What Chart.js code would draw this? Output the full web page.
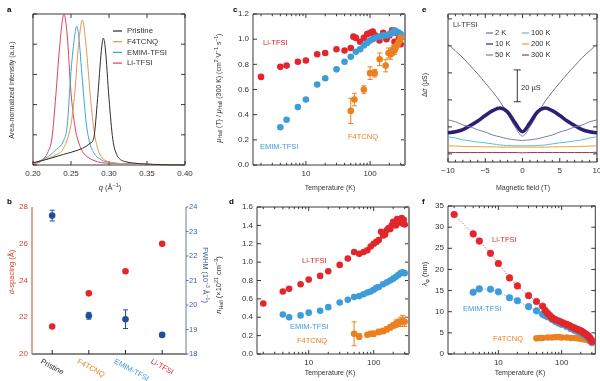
<!DOCTYPE html>
<html>
<head>
<meta charset="utf-8">
<script src="https://cdn.jsdelivr.net/npm/chart.js@4.4.1/dist/chart.umd.min.js"></script>
<style>
  html, body { margin: 0; padding: 0; background: #fff; }
  #wrap { position: relative; width: 600px; height: 381px; overflow: hidden; }
  canvas { position: absolute; }
</style>
</head>
<body>
<div id="wrap">
  <canvas id="pa" width="200" height="195" style="left:0;top:0"></canvas>
  <canvas id="pc" width="210" height="195" style="left:205px;top:0"></canvas>
  <canvas id="pe" width="185" height="195" style="left:415px;top:0"></canvas>
  <canvas id="pb" width="212" height="186" style="left:0;top:195px"></canvas>
  <canvas id="pd" width="203" height="186" style="left:212px;top:195px"></canvas>
  <canvas id="pf" width="185" height="186" style="left:415px;top:195px"></canvas>
</div>
<script>
// ---- panel a: scattering peaks (area-normalized intensity, a.u.) ----
const qPristine = [0.20, 0.22, 0.24, 0.26, 0.27, 0.275, 0.28, 0.285, 0.29, 0.2925, 0.295, 0.30, 0.305, 0.31, 0.315, 0.32, 0.33, 0.35, 0.37, 0.40];
const iPristine = [0.07, 0.2, 0.35, 0.5, 0.62, 0.72, 0.9, 2.2, 3.8, 4.2, 3.9, 2.2, 0.85, 0.35, 0.18, 0.12, 0.07, 0.03, 0.01, 0];
const qF4 = [0.20, 0.21, 0.22, 0.23, 0.24, 0.25, 0.255, 0.26, 0.265, 0.27, 0.275, 0.28, 0.285, 0.29, 0.30, 0.31, 0.32, 0.35, 0.40];
const iF4 = [0.05, 0.12, 0.22, 0.33, 0.55, 1.35, 2.4, 4.0, 4.8, 3.9, 2.4, 1.2, 0.55, 0.27, 0.1, 0.06, 0.04, 0.02, 0];
const qEmim = [0.20, 0.21, 0.22, 0.23, 0.24, 0.245, 0.25, 0.255, 0.2575, 0.26, 0.265, 0.27, 0.275, 0.28, 0.29, 0.30, 0.32, 0.35, 0.40];
const iEmim = [0.05, 0.15, 0.28, 0.5, 0.8, 1.3, 3.1, 4.3, 4.6, 4.3, 2.8, 1.4, 0.7, 0.4, 0.17, 0.09, 0.04, 0.02, 0];
const qLi = [0.20, 0.21, 0.22, 0.225, 0.23, 0.235, 0.2408, 0.245, 0.25, 0.255, 0.26, 0.265, 0.27, 0.28, 0.29, 0.30, 0.32, 0.35, 0.40];
const iLi = [0.05, 0.12, 0.45, 0.9, 2.3, 3.9, 5.0, 4.3, 2.4, 1.3, 0.75, 0.45, 0.3, 0.15, 0.08, 0.06, 0.04, 0.02, 0];
const seriesA = ['Pristine', 'F4TCNQ', 'EMIM-TFSI', 'Li-TFSI'];

// ---- panel b: d-spacing and FWHM per sample ----
const samples = ['Pristine', 'F4TCNQ', 'EMIM-TFSI', 'Li-TFSI'];
const dSpacing = [21.5, 23.3, 24.5, 26.0];
const fwhm = [23.65, 19.56, 19.42, 18.78];
const fwhmErr = [0.22, 0.14, 0.38, 0.06];

// ---- panel c: normalized Hall mobility vs temperature ----
const tcLi = [2, 4, 5, 7.5, 10, 15, 20, 30, 40, 50, 55, 60, 70, 80, 90, 100, 110, 120, 140, 160, 180, 200, 220, 240, 260, 280, 300];
const mcLi = [0.70, 0.78, 0.79, 0.82, 0.83, 0.88, 0.89, 0.92, 0.91, 0.93, 1.02, 1.01, 0.98, 1.01, 1.04, 1.05, 1.06, 1.03, 0.99, 1.05, 1.0, 1.03, 1.07, 0.98, 1.05, 1.0, 0.96];
const tcEmim = [4, 5, 7.5, 10, 15, 20, 30, 40, 50, 60, 70, 80, 90, 100, 110, 120, 140, 160, 180, 200, 220, 240, 260, 280, 300];
const mcEmim = [0.30, 0.36, 0.46, 0.52, 0.64, 0.69, 0.76, 0.82, 0.86, 0.90, 0.92, 0.95, 0.97, 0.99, 1.0, 1.01, 1.02, 1.03, 1.03, 1.04, 1.05, 1.07, 1.06, 1.05, 1.04];
const tcF4 = [50, 57, 80, 100, 118, 141, 175, 194, 210, 220, 230, 240, 250, 260, 270, 280, 290, 300];
const mcF4 = [0.43, 0.52, 0.60, 0.73, 0.73, 0.84, 0.79, 0.89, 0.88, 0.90, 0.92, 0.91, 0.94, 0.95, 0.96, 0.98, 0.99, 1.01];
const ecF4 = [0.10, 0.05, 0.03, 0.05, 0.03, 0.05, 0.05, 0.04, 0.04, 0.03, 0.03, 0.03, 0.03, 0.03, 0.02, 0.02, 0.02, 0.02];

// ---- panel d: Hall carrier density (x10^21 cm^-3) ----
const tdLi = [2, 4, 5, 7.5, 10, 15, 20, 30, 40, 50, 60, 70, 80, 90, 100, 110, 120, 130, 140, 150, 160, 170, 180, 190, 200, 210, 220, 230, 240, 250, 260, 270, 280, 290, 300];
const ndLi = [0.55, 0.68, 0.71, 0.76, 0.81, 0.85, 0.90, 0.97, 1.04, 1.11, 1.09, 1.11, 1.13, 1.17, 1.20, 1.22, 1.24, 1.33, 1.29, 1.30, 1.35, 1.37, 1.36, 1.40, 1.44, 1.42, 1.40, 1.47, 1.45, 1.43, 1.44, 1.48, 1.42, 1.46, 1.41];
const tdEmim = [4, 5, 7.5, 10, 15, 20, 30, 40, 50, 60, 70, 80, 90, 100, 110, 120, 140, 160, 180, 200, 220, 240, 260, 280, 300];
const ndEmim = [0.43, 0.40, 0.42, 0.45, 0.47, 0.51, 0.56, 0.59, 0.62, 0.63, 0.65, 0.67, 0.68, 0.70, 0.72, 0.73, 0.76, 0.78, 0.80, 0.82, 0.84, 0.86, 0.88, 0.89, 0.88];
const tdF4 = [50, 60, 80, 90, 100, 120, 140, 160, 180, 200, 220, 240, 260, 280, 300];
const ndF4 = [0.22, 0.19, 0.21, 0.22, 0.22, 0.24, 0.25, 0.27, 0.29, 0.31, 0.33, 0.34, 0.35, 0.36, 0.35];
const edF4 = [0.13, 0.03, 0.02, 0.02, 0.03, 0.03, 0.03, 0.03, 0.03, 0.03, 0.04, 0.04, 0.05, 0.06, 0.05];

// ---- panel e: magnetoconductance of Li-TFSI (arbitrary offset units) ----
const fieldE = [-10, -9, -8, -7, -6, -5, -4, -3, -2, -1, 0, 1, 2, 3, 4, 5, 6, 7, 8, 9, 10];
const e2K = [4.07, 3.81, 3.56, 3.26, 2.96, 2.63, 2.30, 1.93, 1.48, 1.0, 0.66, 1.0, 1.48, 1.93, 2.30, 2.63, 2.96, 3.26, 3.56, 3.81, 4.07];
const e10K = [0.78, 0.82, 0.90, 1.05, 1.22, 1.42, 1.60, 1.70, 1.55, 1.15, 0.82, 1.15, 1.55, 1.70, 1.60, 1.42, 1.22, 1.05, 0.90, 0.82, 0.78];
const e50K = [1.26, 1.19, 1.07, 1.0, 0.89, 0.81, 0.70, 0.63, 0.56, 0.52, 0.50, 0.52, 0.56, 0.63, 0.70, 0.81, 0.89, 1.0, 1.07, 1.19, 1.26];
const e100K = [0.63, 0.59, 0.52, 0.48, 0.44, 0.41, 0.37, 0.33, 0.31, 0.30, 0.30, 0.30, 0.31, 0.33, 0.37, 0.41, 0.44, 0.48, 0.52, 0.59, 0.63];
const e200K = [0.30, 0.29, 0.28, 0.27, 0.27, 0.26, 0.26, 0.25, 0.25, 0.25, 0.25, 0.25, 0.25, 0.25, 0.26, 0.26, 0.27, 0.27, 0.28, 0.29, 0.30];
const e300K = [0.06, 0.05, 0.05, 0.05, 0.05, 0.05, 0.05, 0.05, 0.05, 0.05, 0.04, 0.05, 0.05, 0.05, 0.05, 0.05, 0.05, 0.05, 0.05, 0.05, 0.06];
const eLabels = ['2 K', '10 K', '50 K', '100 K', '200 K', '300 K'];

// ---- panel f: phase coherence length (nm) ----
const tfLi = [2, 4, 5, 7.5, 10, 15, 20, 30, 40, 50, 55, 60, 65, 70, 75, 80, 90, 100, 110, 120, 130, 140, 150, 160, 170, 180, 190, 200, 210, 220, 230, 240, 250, 260, 270, 280, 290, 300];
const lfLi = [33.0, 28.4, 26.7, 23.8, 21.4, 18.0, 16.1, 13.8, 12.4, 11.3, 10.3, 9.6, 9.1, 8.6, 8.3, 8.1, 7.8, 7.5, 7.2, 7.0, 6.8, 6.5, 6.3, 6.1, 5.9, 5.8, 5.6, 5.5, 5.3, 5.1, 4.9, 4.7, 4.5, 4.3, 4.0, 3.8, 3.4, 3.0];
const tfEmim = [4, 5, 7.5, 10, 15, 20, 30, 40, 50, 55, 60, 70, 80, 90, 100, 120, 140, 160, 180, 200, 220, 240, 260, 280, 300];
const lfEmim = [14.6, 15.4, 15.3, 14.7, 13.3, 12.6, 11.2, 10.2, 9.4, 9.1, 8.8, 8.2, 7.7, 7.3, 7.0, 6.5, 6.0, 5.6, 5.3, 5.0, 4.6, 4.2, 3.8, 3.4, 2.8];
const tfF4 = [40, 45, 50, 60, 70, 80, 90, 100, 120, 140, 160, 180, 200, 220, 240, 260, 280, 300];
const lfF4 = [3.7, 3.8, 3.8, 3.9, 3.9, 4.0, 4.0, 3.9, 3.9, 3.8, 3.8, 3.7, 3.6, 3.5, 3.4, 3.3, 3.0, 2.6];

const FONT = "'Liberation Sans', Arial, Helvetica, sans-serif";
const RED = '#e2262b', BLUE = '#3d9cd9', ORANGE = '#ec8020', NAVY = '#1f4f9c';
Chart.defaults.font.family = FONT;
Chart.defaults.font.size = 8;
Chart.defaults.color = '#333';
Chart.defaults.animation = false;

const pts = (xs, ys) => xs.map((x, i) => ({ x, y: ys[i] }));
const fitW = w => s => { s.width = w; s.paddingTop = 0; s.paddingBottom = 0; };
const fitH = h => s => { s.height = h; s.paddingLeft = 0; s.paddingRight = 0; };
const noGrid = { display: false, drawTicks: false };

// minor ticks of a log axis, 2..9 per decade
const logMinor = [];
for (const d of [1, 10, 100]) for (let k = 2; k <= 9; k++) logMinor.push(k * d);

function richText(ctx, parts, x, y, o) {
  if (typeof parts === 'string') parts = [[parts, '']];
  const size = o.size || 7.5;
  ctx.save();
  ctx.translate(x, y);
  ctx.rotate(o.angle || 0);
  ctx.fillStyle = o.color || '#333';
  ctx.textBaseline = 'middle';
  ctx.textAlign = 'left';
  const fonts = parts.map(p => {
    const small = p[1] === 'sub' || p[1] === 'sup';
    return (p[1] === 'i' ? 'italic ' : '') + (o.bold ? 'bold ' : '') + (small ? size * 0.72 : size) + 'px ' + FONT;
  });
  const widths = parts.map((p, i) => { ctx.font = fonts[i]; return ctx.measureText(p[0]).width; });
  const total = widths.reduce((s, w) => s + w, 0);
  let cx = o.align === 'left' ? 0 : -total / 2;
  parts.forEach((p, i) => {
    ctx.font = fonts[i];
    const dy = p[1] === 'sub' ? size * 0.3 : p[1] === 'sup' ? -size * 0.32 : 0;
    ctx.fillText(p[0], cx, dy);
    cx += widths[i];
  });
  ctx.restore();
}

function line(ctx, x1, y1, x2, y2) {
  ctx.beginPath(); ctx.moveTo(x1, y1); ctx.lineTo(x2, y2); ctx.stroke();
}

// frame, inward ticks, error bars and all texts
function deco(o) {
  return {
    id: 'deco',
    beforeDatasetsDraw(chart) {
      const ctx = chart.ctx, a = chart.chartArea;
      ctx.save();
      ctx.strokeStyle = '#222';
      ctx.lineWidth = 0.9;
      const xs = chart.scales.x, ys = chart.scales.y;
      if (o.xt) {
        const sides = o.xt.sides || ['top', 'bottom'];
        [[o.xt.major, 4], [o.xt.minor || [], 2.2]].forEach(([vals, len]) => vals.forEach(v => {
          if (v < xs.min || v > xs.max) return;
          const px = xs.getPixelForValue(v);
          if (sides.includes('bottom')) line(ctx, px, a.bottom, px, a.bottom - len);
          if (sides.includes('top')) line(ctx, px, a.top, px, a.top + len);
        }));
      }
      if (o.yt) {
        [[o.yt.major, 4], [o.yt.minor || [], 2.2]].forEach(([vals, len]) => vals.forEach(v => {
          const py = ys.getPixelForValue(v);
          line(ctx, a.left, py, a.left + len, py);
          line(ctx, a.right, py, a.right - len, py);
        }));
      }
      if (o.frame !== false) {
        line(ctx, a.left, a.top, a.right, a.top);
        line(ctx, a.left, a.top, a.left, a.bottom);
        line(ctx, a.left, a.bottom, a.right, a.bottom);
        ctx.strokeStyle = o.rightColor || '#222';
        ctx.lineWidth = o.rightWidth || 0.9;
        line(ctx, a.right, a.top, a.right, a.bottom);
      }
      if (o.before) o.before(ctx, chart);
      // error bars
      chart.data.datasets.forEach(ds => {
        if (!ds.err) return;
        const sx = chart.scales[ds.xAxisID || 'x'], sy = chart.scales[ds.yAxisID || 'y'];
        ctx.strokeStyle = ds.backgroundColor;
        ctx.lineWidth = 1;
        ds.data.forEach((p, i) => {
          const e = ds.err[i];
          if (!e) return;
          const px = sx.getPixelForValue(p.x), y1 = sy.getPixelForValue(p.y - e), y2 = sy.getPixelForValue(p.y + e);
          line(ctx, px, y1, px, y2);
          line(ctx, px - 2.5, y1, px + 2.5, y1);
          line(ctx, px - 2.5, y2, px + 2.5, y2);
        });
      });
      ctx.restore();
    },
    afterDraw(chart) {
      const ctx = chart.ctx;
      (o.texts || []).forEach(t => richText(ctx, t.p, t.x - o.ox, t.y - o.oy, t));
      if (o.after) o.after(ctx, chart);
    }
  };
}

const baseOpts = pad => ({
  responsive: false,
  animation: false,
  layout: { padding: pad },
  plugins: { legend: { display: false }, tooltip: { enabled: false } },
});

// ---------- panel a ----------
const colA = ['#2d2d2d', '#e59450', '#3aa6d0', '#d8415f'];
new Chart(document.getElementById('pa'), {
  type: 'scatter',
  data: {
    datasets: [[qPristine, iPristine], [qF4, iF4], [qEmim, iEmim], [qLi, iLi]].map((s, i) => ({
      label: seriesA[i], data: pts(s[0], s[1]), showLine: true, pointRadius: 0,
      borderColor: colA[i], borderWidth: 1, cubicInterpolationMode: 'monotone', clip: false
    }))
  },
  options: Object.assign(baseOpts({ top: 14, right: 15, left: 0, bottom: 0 }), {
    scales: {
      x: { type: 'linear', min: 0.2, max: 0.4, grid: noGrid, border: { display: false },
        ticks: { stepSize: 0.05, padding: 4, maxRotation: 0, autoSkip: false, callback: v => v.toFixed(2) }, afterFit: fitH(30) },
      y: { min: 0, max: 5, grid: noGrid, border: { display: false }, ticks: { display: false }, afterFit: fitW(33) }
    }
  }),
  plugins: [deco({
    ox: 0, oy: 0,
    xt: { major: [0.2, 0.25, 0.3, 0.35, 0.4] },
    yt: { major: [0, 1, 2, 3, 4, 5] },
    texts: [
      { p: 'a', x: 7, y: 10, align: 'left', bold: true, size: 8, color: '#000' },
      { p: [['q', 'i'], [' (Å', ''], ['−1', 'sup'], [')', '']], x: 110, y: 188 },
      { p: 'Area-normalized intensity (a.u.)', x: 12, y: 90, angle: -Math.PI / 2, size: 7 }
    ],
    after(ctx) {
      seriesA.forEach((n, i) => {
        const y = 31 + i * 10.7;
        ctx.strokeStyle = colA[i]; ctx.lineWidth = 1.2;
        line(ctx, 113, y, 122, y);
        richText(ctx, n, 127, y, { align: 'left', size: 7.8 });
      });
    }
  })]
});

// ---------- panel c ----------
const logX = (min, max) => ({
  type: 'logarithmic', min, max, grid: noGrid, border: { display: false },
  afterBuildTicks: s => { s.ticks = [{ value: 10 }, { value: 100 }]; },
  ticks: { padding: 4, maxRotation: 0, autoSkip: false, callback: v => String(v) }
});
const dots = (xs, ys, color, extra) => Object.assign({
  data: pts(xs, ys), backgroundColor: color, borderWidth: 0, pointRadius: 3.3, clip: false
}, extra || {});

new Chart(document.getElementById('pc'), {
  type: 'scatter',
  data: {
    datasets: [
      dots(tcF4, mcF4, ORANGE, { err: ecF4 }),
      dots(tcEmim, mcEmim, BLUE),
      dots(tcLi, mcLi, RED)
    ]
  },
  options: Object.assign(baseOpts({ top: 14, right: 10, left: 0, bottom: 0 }), {
    scales: {
      x: Object.assign(logX(1.5, 350), { afterFit: fitH(30) }),
      y: { min: 0, max: 1.2, grid: noGrid, border: { display: false },
        ticks: { stepSize: 0.2, padding: 4, callback: v => v.toFixed(1) }, afterFit: fitW(48) }
    }
  }),
  plugins: [deco({
    ox: 205, oy: 0, rightColor: '#8a8a8a', rightWidth: 2,
    xt: { major: [10, 100], minor: logMinor },
    yt: { major: [0, 0.2, 0.4, 0.6, 0.8, 1.0, 1.2] },
    texts: [
      { p: 'c', x: 233, y: 10, align: 'left', bold: true, size: 8, color: '#000' },
      { p: 'Temperature (K)', x: 330, y: 188, size: 7 },
      { p: [['μ', 'i'], ['Hall', 'sub'], [' (', ''], ['T', 'i'], [') / ', ''], ['μ', 'i'], ['Hall', 'sub'], [' (300 K) (cm', ''], ['2', 'sup'], [' V', ''], ['−1', 'sup'], [' s', ''], ['−1', 'sup'], [')', '']],
        x: 219, y: 88, angle: -Math.PI / 2, size: 7 },
      { p: 'Li-TFSI', x: 263, y: 43, align: 'left', color: RED, size: 7.5 },
      { p: 'EMIM-TFSI', x: 260, y: 147, align: 'left', color: BLUE, size: 7.5 },
      { p: 'F4TCNQ', x: 348, y: 137, align: 'left', color: ORANGE, size: 7.5 }
    ]
  })]
});

// ---------- panel e ----------
const colE = ['#6b7398', '#2e1f73', '#7480a4', '#5cbcdc', '#e2a434', '#a3304e'];
new Chart(document.getElementById('pe'), {
  type: 'scatter',
  data: {
    datasets: [e300K, e200K, e100K, e50K, e10K, e2K].map((s, k) => {
      const i = 5 - k;
      return { label: eLabels[i], data: pts(fieldE, s), showLine: true, pointRadius: 0, borderColor: colE[i],
        borderWidth: i === 1 ? 3.6 : 1, tension: 0.35, clip: false };
    })
  },
  options: Object.assign(baseOpts({ top: 14, right: 3, left: 0, bottom: 0 }), {
    scales: {
      x: { type: 'linear', min: -10, max: 10, grid: noGrid, border: { display: false },
        ticks: { stepSize: 5, padding: 4, maxRotation: 0, autoSkip: false, callback: v => String(v).replace('-', '−') }, afterFit: fitH(33) },
      y: { min: -0.3, max: 5.18, grid: noGrid, border: { display: false }, ticks: { display: false }, afterFit: fitW(33) }
    }
  }),
  plugins: [deco({
    ox: 415, oy: 0,
    xt: { major: [-10, -5, 0, 5, 10], minor: [-9, -8, -7, -6, -4, -3, -2, -1, 1, 2, 3, 4, 6, 7, 8, 9] },
    yt: { major: [0, 1, 2, 3, 4, 5] },
    texts: [
      { p: 'e', x: 422, y: 10, align: 'left', bold: true, size: 8, color: '#000' },
      { p: 'Magnetic field (T)', x: 523, y: 188, size: 7 },
      { p: [['Δ', ''], ['σ', 'i'], [' (µS)', '']], x: 425, y: 85, angle: -Math.PI / 2, size: 7 },
      { p: 'Li-TFSI', x: 453, y: 25, align: 'left', size: 7.5 },
      { p: '20 µS', x: 521, y: 88, align: 'left', size: 7.5 }
    ],
    after(ctx, chart) {
      eLabels.forEach((n, i) => {
        const col = i < 3 ? 0 : 1, row = i % 3;
        const x0 = (col ? 522 : 486) - 415, y = 33 + row * 11;
        ctx.strokeStyle = colE[i]; ctx.lineWidth = 1.2;
        line(ctx, x0, y, x0 + 7, y);
        richText(ctx, n, x0 + 9, y, { align: 'left', size: 7.5 });
      });
      // 20 uS scale bar
      const ys = chart.scales.y, xs = chart.scales.x;
      const bx = xs.getPixelForValue(-0.7), y1 = ys.getPixelForValue(1.93), y2 = ys.getPixelForValue(3.11);
      ctx.strokeStyle = '#333'; ctx.lineWidth = 1;
      line(ctx, bx, y1, bx, y2);
      line(ctx, bx - 3.5, y1, bx + 3.5, y1);
      line(ctx, bx - 3.5, y2, bx + 3.5, y2);
    }
  })]
});

// ---------- panel b ----------
const sampleColors = ['#222', ORANGE, BLUE, '#d0283e'];
new Chart(document.getElementById('pb'), {
  type: 'scatter',
  data: {
    datasets: [
      dots([0, 1, 2, 3], dSpacing, RED, { yAxisID: 'y' }),
      dots([0, 1, 2, 3], fwhm, NAVY, { yAxisID: 'y2', err: fwhmErr })
    ]
  },
  options: Object.assign(baseOpts({ top: 12, right: 0, left: 0, bottom: 27 }), {
    scales: {
      x: { type: 'linear', min: -0.55, max: 3.65, display: false },
      y: { position: 'left', min: 20, max: 28, grid: noGrid, border: { display: false },
        ticks: { stepSize: 2, padding: 4, color: '#d9423a' }, afterFit: fitW(32) },
      y2: { position: 'right', min: 18, max: 24, grid: noGrid, border: { display: false },
        ticks: { stepSize: 1, padding: 3, color: '#3f5e96', font: { size: 7.5 } }, afterFit: fitW(26) }
    }
  }),
  plugins: [deco({
    ox: 0, oy: 195, frame: false,
    texts: [
      { p: 'b', x: 7, y: 202, align: 'left', bold: true, size: 8, color: '#000' },
      { p: [['d', 'i'], ['-spacing (Å)', '']], x: 12, y: 272, angle: -Math.PI / 2, size: 7.5, color: '#d9423a' },
      { p: [['FWHM (10', ''], ['−3', 'sup'], [' Å', ''], ['−1', 'sup'], [')', '']], x: 205, y: 275, angle: Math.PI / 2, size: 7.2, color: '#3f5e96' }
    ],
    before(ctx, chart) {
      const a = chart.chartArea, xs = chart.scales.x, y2 = chart.scales.y2;
      ctx.lineWidth = 1;
      ctx.strokeStyle = '#b8443c'; line(ctx, a.left, a.top, a.left, a.bottom);
      ctx.strokeStyle = '#6a7a98'; line(ctx, a.right, a.top, a.right, a.bottom);
      [18, 19, 20, 21, 22, 23, 24].forEach(v => { const py = y2.getPixelForValue(v); line(ctx, a.right, py, a.right + 2.5, py); });
      ctx.strokeStyle = '#888'; ctx.lineWidth = 2; line(ctx, a.left, a.bottom, a.right + 1, a.bottom);
      ctx.strokeStyle = '#222'; ctx.lineWidth = 1;
      samples.forEach((s, i) => { const px = xs.getPixelForValue(i); line(ctx, px, a.bottom, px, a.bottom - 4); });
    },
    after(ctx, chart) {
      const xs = chart.scales.x;
      samples.forEach((s, i) => {
        const px = xs.getPixelForValue(i);
        richText(ctx, s, px - 11, 361 - 195, { align: 'left', angle: 0.5, size: 7.5, color: sampleColors[i] });
      });
    }
  })]
});

// ---------- panel d ----------
new Chart(document.getElementById('pd'), {
  type: 'scatter',
  data: {
    datasets: [
      dots(tdF4, ndF4, ORANGE, { err: edF4 }),
      dots(tdEmim, ndEmim, BLUE),
      dots(tdLi, ndLi, RED)
    ]
  },
  options: Object.assign(baseOpts({ top: 12, right: 6, left: 0, bottom: 0 }), {
    scales: {
      x: Object.assign(logX(1.6, 350), { afterFit: fitH(27) }),
      y: { min: 0, max: 1.6, grid: noGrid, border: { display: false },
        ticks: { stepSize: 0.2, padding: 4, callback: v => v.toFixed(1) }, afterFit: fitW(45) }
    }
  }),
  plugins: [deco({
    ox: 212, oy: 195, rightColor: '#8a8a8a', rightWidth: 2,
    xt: { major: [10, 100], minor: logMinor },
    yt: { major: [0, 0.2, 0.4, 0.6, 0.8, 1.0, 1.2, 1.4, 1.6] },
    texts: [
      { p: 'd', x: 229, y: 202, align: 'left', bold: true, size: 8, color: '#000' },
      { p: 'Temperature (K)', x: 330, y: 373, size: 7 },
      { p: [['n', 'i'], ['Hall', 'sub'], [' (×10', ''], ['21', 'sup'], [' cm', ''], ['−3', 'sup'], [')', '']],
        x: 219, y: 285, angle: -Math.PI / 2, size: 7.5 },
      { p: 'Li-TFSI', x: 302, y: 261, align: 'left', color: RED, size: 7.5 },
      { p: 'EMIM-TFSI', x: 290, y: 327, align: 'left', color: BLUE, size: 7.5 },
      { p: 'F4TCNQ', x: 297, y: 341, align: 'left', color: ORANGE, size: 7.5 }
    ]
  })]
});

// ---------- panel f ----------
new Chart(document.getElementById('pf'), {
  type: 'scatter',
  data: {
    datasets: [
      dots(tfLi, lfLi, RED, { showLine: true, borderColor: RED, borderWidth: 0.7, borderDash: [1.5, 1.5] }),
      dots(tfEmim, lfEmim, BLUE, { showLine: true, borderColor: BLUE, borderWidth: 0.7, borderDash: [1.5, 1.5] }),
      dots(tfF4, lfF4, ORANGE)
    ]
  },
  options: Object.assign(baseOpts({ top: 11, right: 3, left: 0, bottom: 0 }), {
    scales: {
      x: Object.assign(logX(1.6, 340), { afterFit: fitH(27) }),
      y: { min: 0, max: 35, grid: noGrid, border: { display: false },
        ticks: { stepSize: 5, padding: 4 }, afterFit: fitW(33) }
    }
  }),
  plugins: [deco({
    ox: 415, oy: 195,
    xt: { major: [10, 100], minor: logMinor },
    yt: { major: [0, 5, 10, 15, 20, 25, 30, 35] },
    texts: [
      { p: 'f', x: 422, y: 202, align: 'left', bold: true, size: 8, color: '#000' },
      { p: 'Temperature (K)', x: 520, y: 373, size: 7 },
      { p: [['λ', 'i'], ['φ', 'sub'], [' (nm)', '']], x: 425, y: 274, angle: -Math.PI / 2, size: 7.5 },
      { p: 'Li-TFSI', x: 492, y: 240, align: 'left', color: RED, size: 7.5 },
      { p: 'EMIM-TFSI', x: 463, y: 309, align: 'left', color: BLUE, size: 7.5 },
      { p: 'F4TCNQ', x: 493, y: 339, align: 'left', color: ORANGE, size: 7.5 }
    ]
  })]
});
</script>
</body>
</html>
